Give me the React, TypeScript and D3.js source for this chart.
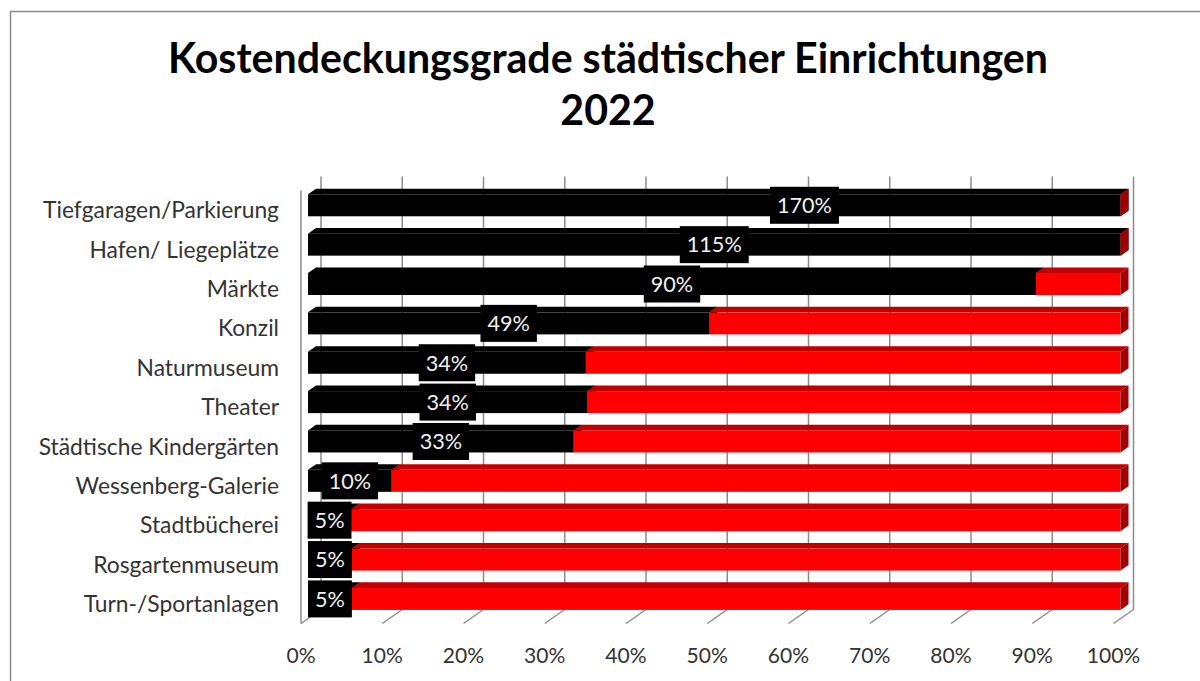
import React, { useEffect, useRef } from "react";
import * as d3 from "d3";

const title = ["Kostendeckungsgrade städtischer Einrichtungen", "2022"];

const categories = [
  "Tiefgaragen/Parkierung",
  "Hafen/ Liegeplätze",
  "Märkte",
  "Konzil",
  "Naturmuseum",
  "Theater",
  "Städtische Kindergärten",
  "Wessenberg-Galerie",
  "Stadtbücherei",
  "Rosgartenmuseum",
  "Turn-/Sportanlagen",
];

// Kostendeckungsgrad (1 = 100%)
const coverage = [1.7, 1.15, 0.896, 0.494, 0.342, 0.344, 0.327, 0.103, 0.053, 0.054, 0.054];

// labels that were dragged off the middle of their bar (share of the axis), null = centred
const labelAt: (number | null)[] = [0.611, null, null, null, null, null, null, null, null, null, null];

const tickValues = [0, 0.1, 0.2, 0.3, 0.4, 0.5, 0.6, 0.7, 0.8, 0.9, 1];

const W = 1200;
const H = 681;
const FONT = "Lato, 'Open Sans', sans-serif";

function App() {
  const ref = useRef<SVGSVGElement>(null);

  useEffect(() => {
    const svg = d3.select(ref.current);
    svg.selectAll("*").remove();

    // font size so that a sample string gets the width it has in the picture
    const fit = (sample: string, width: number, weight = "normal") => {
      const t = svg
        .append("text")
        .attr("font-family", FONT)
        .attr("font-weight", weight)
        .attr("font-size", 100)
        .text(sample);
      const w = (t.node() as SVGTextElement).getComputedTextLength();
      t.remove();
      return (100 * width) / w;
    };

    const x = d3.scaleLinear().domain([0, 1]).range([301, 1113.5]);
    const y = d3.scalePoint<string>().domain(categories).range([190.5, 623.5]).padding(0.5);
    const [y0, y1] = [190.5, 623.5];
    const dx = 20,
      dy = -14; // depth of the 3d walls
    const f1 = 0.35,
      f2 = 0.75; // bar front / back inside the depth
    const barH = 22;

    // frame
    svg
      .append("path")
      .attr("d", `M10.5,${H} V11.5 H${W}`)
      .attr("fill", "none")
      .attr("stroke", "#8a8a8a")
      .attr("stroke-width", 1.5);

    // title
    const titleSize = fit(title[0], 880, "bold");
    svg
      .append("g")
      .selectAll("text")
      .data(title)
      .join("text")
      .attr("x", 608)
      .attr("y", (d, i) => 73 + i * 52)
      .attr("text-anchor", "middle")
      .attr("font-family", FONT)
      .attr("font-weight", "bold")
      .attr("font-size", titleSize)
      .attr("fill", "#000")
      .text((d) => d);

    // walls and gridlines
    const grid = svg
      .append("g")
      .attr("stroke", "#8c8c8c")
      .attr("stroke-width", 1.5)
      .attr("fill", "none");
    grid
      .selectAll("line.back")
      .data(tickValues)
      .join("line")
      .attr("class", "back")
      .attr("x1", (d) => x(d) + dx)
      .attr("x2", (d) => x(d) + dx)
      .attr("y1", y0 + dy)
      .attr("y2", y1 + dy);
    grid
      .selectAll("line.floor")
      .data(tickValues)
      .join("line")
      .attr("class", "floor")
      .attr("x1", (d) => x(d))
      .attr("x2", (d) => x(d) + dx)
      .attr("y1", y1)
      .attr("y2", y1 + dy);
    grid
      .append("line")
      .attr("x1", x(0))
      .attr("x2", x(0))
      .attr("y1", y0)
      .attr("y2", y1);

    // bars: covered part black, the rest red
    const rows = categories.map((c, i) => {
      const covered = Math.min(coverage[i], 1);
      return { c, covered, rest: 1 - covered };
    });
    const series = d3.stack<any>().keys(["covered", "rest"])(rows);
    const colors: Record<string, { front: string; top: string; side: string }> = {
      covered: { front: "#000000", top: "#000000", side: "#000000" },
      rest: { front: "#ff0000", top: "#c00000", side: "#a00000" },
    };

    const bars = svg.append("g");
    const ox = dx * (f2 - f1),
      oy = dy * (f2 - f1);
    rows.forEach((r, i) => {
      series.forEach((s) => {
        const [a, b] = s[i];
        const col = colors[s.key];
        const xa = x(a) + dx * f1;
        const xb = x(b) + dx * f1;
        const top = (y(r.c) as number) + dy * f1 - barH / 2;
        const bot = top + barH;
        const g = bars.append("g");
        g.append("rect")
          .attr("x", xa)
          .attr("y", top)
          .attr("width", xb - xa)
          .attr("height", barH)
          .attr("fill", col.front);
        g.append("path")
          .attr("d", `M${xa},${top} L${xa + ox},${top + oy} L${xb + ox},${top + oy} L${xb},${top} Z`)
          .attr("fill", col.top);
        g.append("path")
          .attr("d", `M${xb},${top} L${xb + ox},${top + oy} L${xb + ox},${bot + oy} L${xb},${bot} Z`)
          .attr("fill", col.side);
      });
    });

    // category labels
    const catSize = fit(categories[0], 236);
    svg
      .append("g")
      .selectAll("text")
      .data(categories)
      .join("text")
      .attr("x", 279)
      .attr("y", (d) => (y(d) as number) + catSize * 0.36)
      .attr("text-anchor", "end")
      .attr("font-family", FONT)
      .attr("font-size", catSize)
      .attr("fill", "#333")
      .text((d) => d);

    // axis tick labels
    const fmt = d3.format(".0%");
    const tickSize = fit("100%", 53.5);
    svg
      .append("g")
      .selectAll("text")
      .data(tickValues)
      .join("text")
      .attr("x", (d) => x(d))
      .attr("y", 663)
      .attr("text-anchor", "middle")
      .attr("font-family", FONT)
      .attr("font-size", tickSize)
      .attr("fill", "#333")
      .text((d) => fmt(d));

    // data labels in black boxes
    const labSize = fit("170%", 55);
    const labels = svg.append("g");
    rows.forEach((r, i) => {
      const pos = labelAt[i] ?? r.covered / 2;
      const cx = x(pos) + dx * f1;
      const cy = (y(r.c) as number) + dy * f1;
      const g = labels.append("g");
      const box = g.append("rect").attr("fill", "#000");
      const t = g
        .append("text")
        .attr("x", cx)
        .attr("y", cy + labSize * 0.36)
        .attr("text-anchor", "middle")
        .attr("font-family", FONT)
        .attr("font-size", labSize)
        .attr("fill", "#f2f2f2")
        .text(fmt(coverage[i]));
      const tw = (t.node() as SVGTextElement).getComputedTextLength();
      box
        .attr("x", cx - tw / 2 - 7)
        .attr("y", cy - 18.5)
        .attr("width", tw + 14)
        .attr("height", 37);
    });
  }, []);

  return (
    <svg
      ref={ref}
      width={W}
      height={H}
      style={{ position: "absolute", left: 0, top: 0, background: "#fff" }}
    />
  );
}

export default App;
